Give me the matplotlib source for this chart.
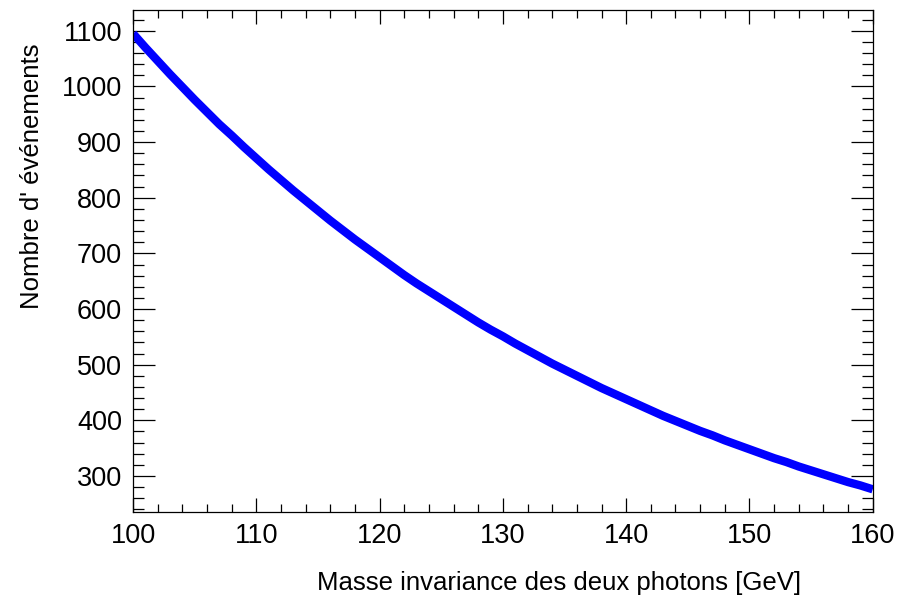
import matplotlib
matplotlib.use("Agg")
import matplotlib.pyplot as plt
from matplotlib.ticker import MultipleLocator

# masse invariante (GeV) et nombre d'evenements
masse = list(range(100, 161))
evenements = [
    1095, 1070, 1046, 1022, 999, 976, 954, 932, 912, 891,
    871, 851, 832, 813, 795, 777, 759, 742, 725, 709,
    693, 677, 661, 646, 632, 618, 604, 590, 576, 563,
    551, 538, 526, 514, 502, 491, 480, 469, 458, 448,
    438, 428, 418, 408, 399, 390, 381, 373, 364, 356,
    348, 340, 332, 325, 317, 310, 303, 296, 289, 283,
    276,
]

x_titre = "Masse invariance des deux photons [GeV]"
y_titre = "Nombre d' événements"

plt.rcParams['font.family'] = ['Liberation Sans', 'DejaVu Sans']

fig = plt.figure(figsize=(9.11, 5.99), dpi=100)
ax = fig.add_axes([0.146, 0.145, 0.812, 0.838])

ax.plot(masse, evenements, color='#0000ff', linewidth=6, solid_capstyle='butt')

ax.set_xlim(100, 160)
ax.set_ylim(235, 1137)

ax.xaxis.set_major_locator(MultipleLocator(10))
ax.xaxis.set_minor_locator(MultipleLocator(2))
ax.yaxis.set_major_locator(MultipleLocator(100))
ax.yaxis.set_minor_locator(MultipleLocator(20))

ax.tick_params(axis='both', which='both', direction='in', top=True, right=True,
               width=0.9, labelsize=19.5, pad=8)
ax.tick_params(axis='x', which='major', length=10)
ax.tick_params(axis='x', which='minor', length=6)
ax.tick_params(axis='y', which='major', length=16)
ax.tick_params(axis='y', which='minor', length=8)

for s in ax.spines.values():
    s.set_linewidth(0.9)

fig.text(0.614, 0.027, x_titre, fontsize=18.5, ha='center', va='center')
fig.text(0.035, 0.705, y_titre, fontsize=18.5, rotation=90, ha='center', va='center')

plt.savefig('out.png', dpi=100)
